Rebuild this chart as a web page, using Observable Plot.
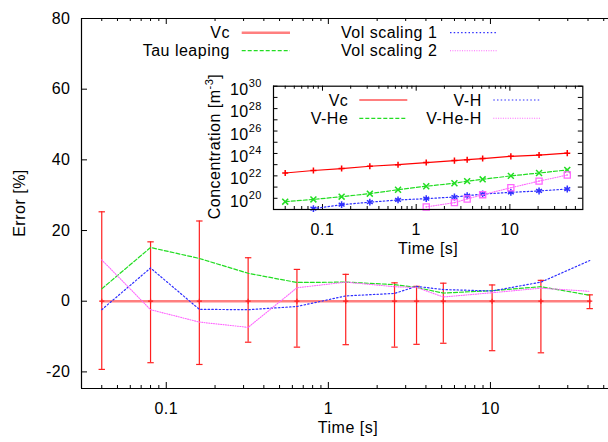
<!DOCTYPE html>
<html><head><meta charset="utf-8">
<script src="https://cdn.jsdelivr.net/npm/d3@7"></script>
<script src="https://cdn.jsdelivr.net/npm/@observablehq/plot@0.6"></script>
<style>
body{margin:0;background:#fff}
#wrap{position:relative;width:608px;height:442px;overflow:hidden;background:#fff}
#wrap svg{position:absolute;left:0;top:0}
</style></head><body><div id="wrap"></div>
<script>
// ---------- data ----------
const seriesNames = ["Vc", "Tau leaping", "Vol scaling 1", "Vol scaling 2"];
const insetSeriesNames = ["Vc", "V-He", "V-H", "V-He-H"];
const times = [0.04, 0.08, 0.16, 0.32, 0.64, 1.28, 2.56, 3.5, 5.12, 10.24, 20.48, 40.96];
const vcError = [0, 0, 0, 0, 0, 0, 0, 0, 0, 0, 0, 0];
const vcErrHigh = [25.3, 16.8, 22.7, 12.3, 9.0, 7.6, 5.2, 4.2, 5.1, 4.6, 5.9, 1.8];
const vcErrLow = [-19.3, -17.4, -17.9, -11.6, -13.0, -12.3, -13.0, -12.2, -11.9, -14.0, -14.6, -2.1];
const tauLeaping = [3.5, 15.2, 12.1, 7.9, 5.3, 5.4, 4.7, 3.9, 2.3, 3.0, 4.1, 1.7];
const volScaling1 = [-2.4, 9.4, -2.3, -2.4, -1.5, 1.5, 2.2, 4.2, 3.3, 2.9, 5.4, 11.5];
const volScaling2 = [11.7, -2.4, -5.9, -7.4, 3.8, 5.4, 4.1, 3.9, 1.2, 2.4, 3.7, 2.8];

const vcConc = [1.8e22, 3.0e22, 4.5e22, 7.2e22, 1.0e23, 1.55e23, 2.3e23, 2.8e23, 3.5e23, 5.5e23, 7.2e23, 1.07e24];
const vHeConc = [5.0e19, 7.9e19, 1.4e20, 2.6e20, 5.8e20, 1.2e21, 2.2e21, 3.4e21, 4.9e21, 1.0e22, 1.8e22, 3.4e22];
const vHConc = [null, 1.2e19, 2.7e19, 4.5e19, 7.1e19, 9.3e19, 1.3e20, 1.7e20, 2.4e20, 3.4e20, 4.5e20, 6.7e20];
const vHeHConc = [null, null, null, null, null, 1.7e19, 4.1e19, 8.7e19, 2.1e20, 8.7e20, 3.4e21, 1.2e22];

const errorTicks = [-20, 0, 20, 40, 60, 80];
const timeTicks = [0.1, 1, 10];
const timeMinorTicks = [0.03, 0.04, 0.05, 0.06, 0.07, 0.08, 0.09, 0.2, 0.3, 0.4, 0.5, 0.6, 0.7, 0.8, 0.9,
  2, 3, 4, 5, 6, 7, 8, 9, 20, 30, 40, 50];
const concDecades = [1e19, 1e20, 1e21, 1e22, 1e23, 1e24, 1e25, 1e26, 1e27, 1e28, 1e29, 1e30];
const concLabelTicks = [1e20, 1e22, 1e24, 1e26, 1e28, 1e30];
const concLabelExps = ["20", "22", "24", "26", "28", "30"];

// ---------- style ----------
const F = "'Liberation Sans', Arial, Helvetica, sans-serif";
const FS = 16;
const SUP = 11;
const LS = "0.5px";
const cRed = "#ff0000", cGreen = "#22dd22", cBlue = "#3030ff", cMag = "#ff66ff";
const dashGreen = "4,2", dashBlue = "1.5,2.2", dashMag = "1,1.4";

const wrap = document.getElementById("wrap");

// ---------- main plot ----------
const mainW = 608, mainH = 442, mL = 81, mR = 0, mT = 18, mB = 54;
const pH = mainH - mT - mB, pW = mainW - mL - mR;
const xDomain = [0.03, 53.5], yDomain = [-24.7, 80];
const mainRows = times.map((t, i) => ({t, vc: vcError[i], lo: vcErrLow[i], hi: vcErrHigh[i],
  tau: tauLeaping[i], v1: volScaling1[i], v2: volScaling2[i]}));

const capSymbol = {draw(ctx, size) { const r = Math.sqrt(size / Math.PI); ctx.moveTo(-r, 0); ctx.lineTo(r, 0); }};

const main = Plot.plot({
  width: mainW, height: mainH, marginLeft: mL, marginRight: mR, marginTop: mT, marginBottom: mB,
  x: {type: "log", domain: xDomain},
  y: {domain: yDomain},
  style: {fontFamily: F, fontSize: FS + "px", background: "white", color: "black"},
  marks: [
    Plot.line(mainRows, {x: "t", y: "vc", stroke: cRed, strokeOpacity: 0.5, strokeWidth: 2.6}),
    Plot.ruleX(mainRows, {x: "t", y1: "lo", y2: "hi", stroke: "#ff2020", strokeWidth: 1.2}),
    Plot.dot(mainRows, {x: "t", y: "lo", symbol: capSymbol, r: 3.2, stroke: "#ff2020", strokeWidth: 1.2}),
    Plot.dot(mainRows, {x: "t", y: "hi", symbol: capSymbol, r: 3.2, stroke: "#ff2020", strokeWidth: 1.2}),
    Plot.dot(mainRows, {x: "t", y: "vc", symbol: "plus", r: 1.8, stroke: "#ff2020", strokeWidth: 1.2}),
    Plot.line(mainRows, {x: "t", y: "tau", stroke: cGreen, strokeWidth: 1.2, strokeDasharray: dashGreen}),
    Plot.line(mainRows, {x: "t", y: "v1", stroke: cBlue, strokeWidth: 1.2, strokeDasharray: dashBlue}),
    Plot.line(mainRows, {x: "t", y: "v2", stroke: cMag, strokeWidth: 1.1, strokeDasharray: dashMag}),
    Plot.ruleY([yDomain[0]], {stroke: "black", strokeWidth: 1.2}),
    Plot.ruleY([yDomain[1]], {stroke: "black", strokeWidth: 1.2}),
    Plot.ruleX([xDomain[0]], {stroke: "black", strokeWidth: 1.2}),
    Plot.tickX(timeTicks, {x: d => d, insetTop: pH - 6, stroke: "black"}),
    Plot.tickX(timeTicks, {x: d => d, insetBottom: pH - 6, stroke: "black"}),
    Plot.tickX(timeMinorTicks, {x: d => d, insetTop: pH - 3, stroke: "black"}),
    Plot.tickX(timeMinorTicks, {x: d => d, insetBottom: pH - 3, stroke: "black"}),
    Plot.tickY(errorTicks, {y: d => d, insetRight: pW - 6, stroke: "black"}),
    Plot.axisX({ticks: timeTicks, tickSize: 0, tickPadding: 14.5, tickFormat: d => String(d), label: null}),
    Plot.axisY({ticks: errorTicks, tickSize: 0, tickPadding: 11, tickFormat: d => String(d), label: null}),
    Plot.text(["Time [s]"], {text: d => d, frameAnchor: "bottom", textAnchor: "middle", dx: 3, dy: 44})
  ]
});
d3.select(main).style("letter-spacing", LS);
wrap.appendChild(main);

d3.select(main).append("text").attr("font-family", F).attr("font-size", FS).style("letter-spacing", LS)
  .attr("text-anchor", "middle").attr("transform", `translate(25,${mT + pH / 2}) rotate(-90)`)
  .text("Error [%]");

function addLegend(svg, entries, ox, oy) {
  const g = d3.select(svg).append("g").attr("font-family", F).attr("font-size", FS).style("letter-spacing", LS);
  entries.forEach(e => {
    g.append("text").attr("x", e.tx - ox).attr("y", e.y - oy + 5.7).attr("text-anchor", "end").text(e.label);
    g.append("line").attr("x1", e.x1 - ox).attr("x2", e.x2 - ox).attr("y1", e.y - oy).attr("y2", e.y - oy)
      .attr("stroke", e.stroke).attr("stroke-width", e.w).attr("stroke-opacity", e.op ?? 1)
      .attr("stroke-dasharray", e.dash);
  });
}
addLegend(main, [
  {label: seriesNames[0], tx: 230, x1: 241.7, x2: 290, y: 32.7, stroke: cRed, w: 2.6, op: 0.5, dash: null},
  {label: seriesNames[1], tx: 230, x1: 241.7, x2: 290, y: 50.7, stroke: cGreen, w: 1.2, dash: dashGreen},
  {label: seriesNames[2], tx: 437.3, x1: 450, x2: 497.3, y: 32.7, stroke: cBlue, w: 1.2, dash: dashBlue},
  {label: seriesNames[3], tx: 437.3, x1: 450, x2: 497.3, y: 50.7, stroke: cMag, w: 1.1, dash: dashMag}
], 0, 0);

// ---------- inset ----------
const iL = 190, iT = 60, iW = 400, iH = 205;
const imL = 83, imR = 7.7, imT = 25.7, imB = 56;
const ipH = iH - imT - imB, ipW = iW - imL - imR;
const insetRows = times.map((t, i) => ({t, vc: vcConc[i], vhe: vHeConc[i], vh: vHConc[i], vheh: vHeHConc[i]}));
const rowsVH = insetRows.filter(d => d.vh != null);
const rowsVHeH = insetRows.filter(d => d.vheh != null);

const inset = Plot.plot({
  width: iW, height: iH, marginLeft: imL, marginRight: imR, marginTop: imT, marginBottom: imB,
  x: {type: "log", domain: [0.03, 60]},
  y: {type: "log", domain: [1e19, 1e30], axis: null},
  style: {fontFamily: F, fontSize: FS + "px", background: "transparent", color: "black"},
  marks: [
    Plot.tickX(timeTicks, {x: d => d, insetTop: ipH - 5, stroke: "black"}),
    Plot.tickX(timeTicks, {x: d => d, insetBottom: ipH - 5, stroke: "black"}),
    Plot.tickX(timeMinorTicks, {x: d => d, insetTop: ipH - 3, stroke: "black"}),
    Plot.tickX(timeMinorTicks, {x: d => d, insetBottom: ipH - 3, stroke: "black"}),
    Plot.tickY(concDecades, {y: d => d, insetRight: ipW - 4.5, stroke: "black"}),
    Plot.tickY(concDecades, {y: d => d, insetLeft: ipW - 4.5, stroke: "black"}),
    Plot.line(insetRows, {x: "t", y: "vc", stroke: cRed, strokeWidth: 1.2}),
    Plot.dot(insetRows, {x: "t", y: "vc", symbol: "plus", r: 2.1, stroke: cRed, strokeWidth: 1.5}),
    Plot.line(insetRows, {x: "t", y: "vhe", stroke: cGreen, strokeWidth: 1.2, strokeDasharray: dashGreen}),
    Plot.dot(insetRows, {x: "t", y: "vhe", symbol: "times", r: 2.8, stroke: cGreen, strokeWidth: 1.5}),
    Plot.line(rowsVH, {x: "t", y: "vh", stroke: cBlue, strokeWidth: 1.2, strokeDasharray: dashBlue}),
    Plot.dot(rowsVH, {x: "t", y: "vh", symbol: "asterisk", r: 3.2, stroke: cBlue, strokeWidth: 1.5}),
    Plot.line(rowsVHeH, {x: "t", y: "vheh", stroke: cMag, strokeWidth: 1.1, strokeDasharray: dashMag}),
    Plot.dot(rowsVHeH, {x: "t", y: "vheh", symbol: "square2", r: 3.9, stroke: cMag, strokeWidth: 1.3}),
    Plot.dot(rowsVHeH, {x: "t", y: "vheh", r: 0.8, fill: cMag}),
    Plot.frame({stroke: "black", strokeWidth: 1.2}),
    Plot.axisX({ticks: timeTicks, tickSize: 0, tickPadding: 14.3, tickFormat: d => String(d), label: null}),
    Plot.text(["Time [s]"], {text: d => d, frameAnchor: "bottom", textAnchor: "middle", dy: 44})
  ]
});
d3.select(inset).style("letter-spacing", LS).style("left", iL + "px").style("top", iT + "px");
wrap.appendChild(inset);

// inset y tick labels with superscripts, placed through the inset's y scale
const ys = inset.scale("y");
const ig = d3.select(inset).append("g").attr("font-family", F).attr("font-size", FS)
  .attr("text-anchor", "end").style("letter-spacing", LS);
concLabelTicks.forEach((v, i) => {
  const t = ig.append("text").attr("x", imL - 11).attr("y", ys.apply(v) + 9);
  t.append("tspan").text("10");
  t.append("tspan").attr("dy", -7.5).attr("font-size", SUP).text(concLabelExps[i]);
});
// inset y label
const yl = d3.select(inset).append("text").attr("font-family", F).attr("font-size", FS)
  .style("letter-spacing", LS).attr("text-anchor", "middle")
  .attr("transform", `translate(${220 - iL},${146.5 - iT}) rotate(-90)`);
yl.append("tspan").text("Concentration [m");
yl.append("tspan").attr("dy", -7).attr("font-size", SUP).text("-3");
yl.append("tspan").attr("dy", 7).text("]");

addLegend(inset, [
  {label: insetSeriesNames[0], tx: 348.3, x1: 359.3, x2: 407.3, y: 100, stroke: cRed, w: 1.2, dash: null},
  {label: insetSeriesNames[1], tx: 348.3, x1: 359.3, x2: 407.3, y: 118.3, stroke: cGreen, w: 1.2, dash: dashGreen},
  {label: insetSeriesNames[2], tx: 481.7, x1: 493.3, x2: 540, y: 100, stroke: cBlue, w: 1.2, dash: dashBlue},
  {label: insetSeriesNames[3], tx: 481.7, x1: 493.3, x2: 540, y: 118.3, stroke: cMag, w: 1.1, dash: dashMag}
], iL, iT);
</script></body></html>
